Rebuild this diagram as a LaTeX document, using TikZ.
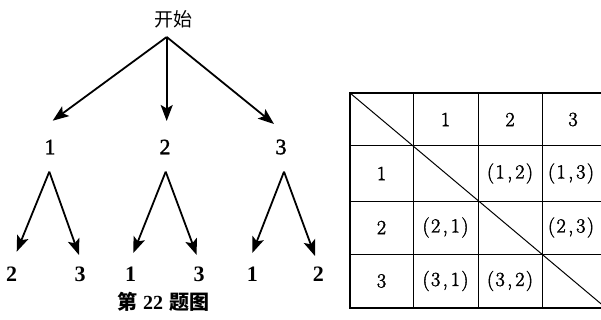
\documentclass[tikz,border=0pt]{standalone}
\usepackage{fontspec}
\newfontfamily\tnr{Liberation Serif}
\newfontfamily\tnrh{Liberation Serif}[FakeBold=1.5]
\newfontfamily\cjk{Noto Sans CJK SC}
\newfontfamily\lmr{Latin Modern Roman}[FakeBold=2]
\usetikzlibrary{arrows.meta}
\newcommand{\pr}[2]{(\kern1.5pt#1\kern2.5pt,\kern3pt#2\kern1.5pt)}
\begin{document}
\begin{tikzpicture}[x=1pt,y=-1pt,
  arr/.style={line width=1.8pt,-{Stealth[length=16pt,width=12pt,inset=3.5pt]}},
  lab/.style={font=\tnrh\fontsize{22}{22}\selectfont, inner sep=0pt},
  blab/.style={font=\tnr\bfseries\fontsize{22}{22}\selectfont, inner sep=0pt},
  cell/.style={font=\lmr\fontsize{20}{20}\selectfont, inner sep=0pt},
  grid/.style={line width=1pt},
  frame/.style={line width=2.2pt}]
\useasboundingbox (0,0) rectangle (601,320);

% ---- tree ----
\node[font=\cjk\fontsize{19}{19}\selectfont, inner sep=0pt] (start) at (173,19) {开始};
\coordinate (a0) at (166.7,37);
\coordinate (t1) at (52.7,120.7);
\coordinate (t2) at (166.7,121);
\coordinate (t3) at (274,124);
\node[lab] (n1) at (50,147) {1};
\node[lab] (n2) at (165,147) {2};
\node[lab] (n3) at (281,147) {3};
\draw[arr] (a0) -- (t1);
\draw[arr] (a0) -- (t2);
\draw[arr] (a0) -- (t3);

\coordinate (a1) at (49.3,171.7);
\coordinate (a2) at (165.7,171.7);
\coordinate (a3) at (284,171.7);
\coordinate (t11) at (16.7,251.7);
\coordinate (t12) at (79,255);
\coordinate (t21) at (133.3,253);
\coordinate (t22) at (196.7,255);
\coordinate (t31) at (252.3,253);
\coordinate (t32) at (315,256);
\draw[arr] (a1) -- (t11);
\draw[arr] (a1) -- (t12);
\draw[arr] (a2) -- (t21);
\draw[arr] (a2) -- (t22);
\draw[arr] (a3) -- (t31);
\draw[arr] (a3) -- (t32);
\node[blab] (l11) at (11.7,274) {2};
\node[blab] (l12) at (80,274) {3};
\node[blab] (l21) at (130.7,274) {1};
\node[blab] (l22) at (199,274) {3};
\node[blab] (l31) at (252.3,274) {1};
\node[blab] (l32) at (318.3,274) {2};
\node[font=\fontsize{20}{20}\selectfont, inner sep=0pt] (cap) at (163,302)
  {{\cjk\bfseries 第}\kern6pt{\tnr\bfseries 22}\kern6pt{\cjk\bfseries 题图}};

% ---- table ----
\begin{scope}
\clip (0,0) rectangle (601,320);
\foreach \x in {413,478,542} \draw[grid] (\x,93) -- (\x,308);
\foreach \y in {146,201,254} \draw[grid] (350,\y) -- (608,\y);
\draw[grid] (350,93) -- (606,308);
\draw[frame] (608,93) -- (350,93) -- (350,308) -- (608,308);
\draw[frame] (606,93) -- (606,308);
\end{scope}
\node[cell] (h1) at (445.5,119.5) {1};
\node[cell] (h2) at (510,119.5) {2};
\node[cell] (h3) at (573,119.5) {3};
\node[cell] (r1) at (381.5,173.5) {1};
\node[cell] (r2) at (381.5,227.5) {2};
\node[cell] (r3) at (381.5,281) {3};
\node[cell] (c12) at (510,173.5) {\pr12};
\node[cell] (c13) at (571,173.5) {\pr13};
\node[cell] (c21) at (445.5,227.5) {\pr21};
\node[cell] (c23) at (571,227.5) {\pr23};
\node[cell] (c31) at (445.5,281) {\pr31};
\node[cell] (c32) at (510,281) {\pr32};
\end{tikzpicture}
\end{document}
